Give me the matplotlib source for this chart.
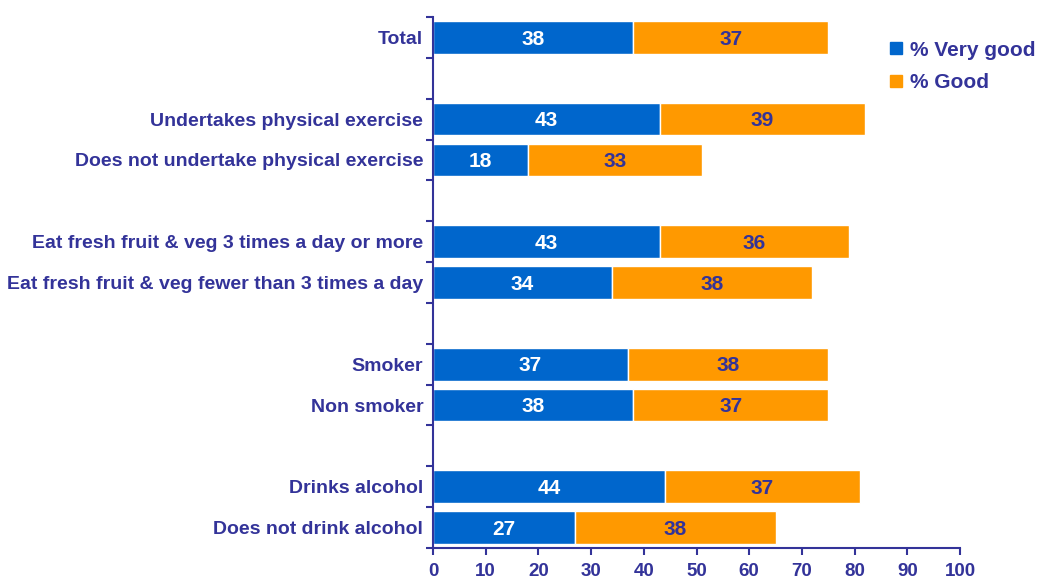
import matplotlib
matplotlib.use("Agg")
import matplotlib.pyplot as plt
from matplotlib.lines import Line2D
import numpy as np

plt.rcParams['font.family'] = ['Liberation Sans', 'DejaVu Sans']

categories = ["Total", "",
              "Undertakes physical exercise", "Does not undertake physical exercise", "",
              "Eat fresh fruit & veg 3 times a day or more", "Eat fresh fruit & veg fewer than 3 times a day", "",
              "Smoker", "Non smoker", "",
              "Drinks alcohol", "Does not drink alcohol"]
very_good = [38, None, 43, 18, None, 43, 34, None, 37, 38, None, 44, 27]
good = [37, None, 39, 33, None, 36, 38, None, 38, 37, None, 37, 38]
series_names = ["% Very good", "% Good"]
xticks = [0, 10, 20, 30, 40, 50, 60, 70, 80, 90, 100]

BLUE = "#0066CC"
ORANGE = "#FF9900"
NAVY = "#333399"

fig = plt.figure(figsize=(10.4, 5.83), dpi=100)
ax = fig.add_axes([433/1040, 1-548/583, (960-433)/1040, (548-17)/583])

n = len(categories)
ypos = np.arange(n)
for i in range(n):
    if very_good[i] is None:
        continue
    ax.barh(i, very_good[i], height=0.8, color=BLUE, edgecolor="white", linewidth=1)
    ax.barh(i, good[i], left=very_good[i], height=0.8, color=ORANGE, edgecolor="white", linewidth=1)
    ax.text(very_good[i] / 2, i + 0.04, str(very_good[i]), ha="center", va="center",
            color="white", fontsize=15, fontweight="bold")
    ax.text(very_good[i] + good[i] / 2, i + 0.04, str(good[i]), ha="center", va="center",
            color=NAVY, fontsize=15, fontweight="bold")

ax.set_ylim(n - 0.5, -0.5)
ax.set_xlim(0, 100)
ax.set_yticks(ypos)
ax.set_yticklabels(categories, fontsize=14, fontweight="bold", color=NAVY)
ax.tick_params(axis="y", length=0, pad=7)
ax.set_yticks(np.arange(-0.5, n, 1.0), minor=True)
ax.tick_params(axis="y", which="minor", length=5, width=1.5, color=NAVY, direction="out")
ax.set_xticks(xticks)
ax.set_xticklabels([str(t) for t in xticks], fontsize=13.5, fontweight="bold", color=NAVY)
ax.tick_params(axis="x", length=5, width=1.5, color=NAVY, direction="out", pad=5.5)

for s in ["top", "right"]:
    ax.spines[s].set_visible(False)
for s in ["left", "bottom"]:
    ax.spines[s].set_color(NAVY)
    ax.spines[s].set_linewidth(1.5)

handles = [Line2D([], [], marker="s", linestyle="", markersize=8.5, markerfacecolor=BLUE, markeredgecolor=BLUE),
           Line2D([], [], marker="s", linestyle="", markersize=8.5, markerfacecolor=ORANGE, markeredgecolor=ORANGE)]
leg = fig.legend(handles, series_names, loc="upper left", bbox_to_anchor=(870/1040, 1-22/583),
                 frameon=False, handlelength=0.7, handletextpad=0.3, labelspacing=0.65,
                 prop={"size": 15, "weight": "bold"})
for t in leg.get_texts():
    t.set_color(NAVY)

fig.savefig("out.png", dpi=100)
